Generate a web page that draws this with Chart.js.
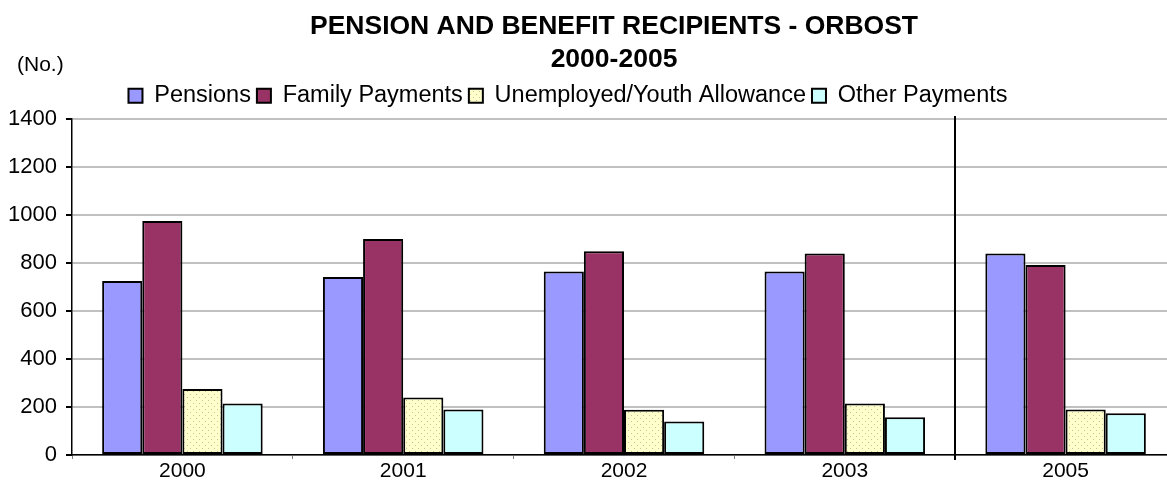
<!DOCTYPE html>
<html>
<head>
<meta charset="utf-8">
<script src="https://cdn.jsdelivr.net/npm/chart.js@4.4.1/dist/chart.umd.min.js"></script>
<style>
  html, body { margin: 0; padding: 0; background: #fff; overflow: hidden; }
  #wrap { width: 1200px; height: 495px; position: relative; }
</style>
</head>
<body>
<div id="wrap"><canvas id="c" width="1200" height="495"></canvas></div>
<script>
const categories = ['2000', '2001', '2002', '2003', '2005'];
const pensions = [725, 742, 765, 765, 840];
const familyPayments = [975, 900, 849, 840, 792];
const unemployedYouth = [275, 240, 189, 215, 190];
const otherPayments = [215, 190, 140, 157, 174];
const yTicks = [0, 200, 400, 600, 800, 1000, 1200, 1400];
const titleLines = ['PENSION AND BENEFIT RECIPIENTS - ORBOST', '2000-2005'];
const unitLabel = '(No.)';
const seriesNames = ['Pensions', 'Family Payments', 'Unemployed/Youth Allowance', 'Other Payments'];

const FONT = "'Liberation Sans', Arial, sans-serif";

function dotPattern() {
  const c = document.createElement('canvas');
  c.width = 6; c.height = 6;
  const g = c.getContext('2d');
  g.fillStyle = '#FFFFCC';
  g.fillRect(0, 0, 6, 6);
  g.fillStyle = '#c4c49a';
  g.fillRect(1, 1, 1, 1);
  g.fillRect(4, 4, 1, 1);
  return g.createPattern(c, 'repeat');
}
const pat = dotPattern();

const textPlugin = {
  id: 'headerText',
  afterDraw(chart) {
    const ctx = chart.ctx;
    ctx.save();
    ctx.fillStyle = '#000';
    ctx.textBaseline = 'middle';
    ctx.textAlign = 'center';
    ctx.font = "bold 26.5px " + FONT;
    ctx.fillText(titleLines[0], 614, 27);
    ctx.fillText(titleLines[1], 614, 60);
    ctx.font = "21px " + FONT;
    ctx.textAlign = 'left';
    ctx.fillText(unitLabel, 17, 65);
    ctx.restore();
  }
};

const dividerPlugin = {
  id: 'divider',
  afterDatasetsDraw(chart) {
    const xs = chart.scales.x;
    const a = chart.chartArea;
    const x = Math.round((xs.getPixelForTick(3) + xs.getPixelForTick(4)) / 2);
    const ctx = chart.ctx;
    ctx.save();
    ctx.strokeStyle = '#000';
    ctx.lineWidth = 2;
    ctx.beginPath();
    ctx.moveTo(x, a.top - 3);
    ctx.lineTo(x, a.bottom + 5);
    ctx.stroke();
    ctx.restore();
  }
};

const legendFit = {
  id: 'legendFit',
  beforeInit(chart) {
    const lg = chart.legend;
    if (lg) {
      const origFit = lg.fit;
      lg.fit = function () { origFit.call(this); this.height = 41; };
      const origDraw = lg.draw;
      lg.draw = function () {
        const ctx = this.ctx;
        ctx.save();
        ctx.translate(-20, 0);
        origDraw.call(this);
        ctx.restore();
      };
    }
  }
};

new Chart(document.getElementById('c'), {
  type: 'bar',
  data: {
    labels: categories,
    datasets: [
      { label: seriesNames[0], data: pensions, backgroundColor: '#9999FF', borderColor: '#000', borderWidth: 2 },
      { label: seriesNames[1], data: familyPayments, backgroundColor: '#993366', borderColor: '#000', borderWidth: 2 },
      { label: seriesNames[2], data: unemployedYouth, backgroundColor: pat, borderColor: '#000', borderWidth: 2 },
      { label: seriesNames[3], data: otherPayments, backgroundColor: '#CCFFFF', borderColor: '#000', borderWidth: 2 }
    ]
  },
  options: {
    responsive: false,
    animation: false,
    devicePixelRatio: 1,
    layout: { padding: { top: 78, left: 0, right: 24, bottom: 0 } },
    datasets: { bar: { categoryPercentage: 0.727, barPercentage: 1.0, borderSkipped: false } },
    plugins: {
      title: { display: false },
      legend: {
        display: true,
        position: 'top',
        labels: {
          color: '#000',
          font: { family: FONT, size: 23.5 },
          boxWidth: 14,
          boxHeight: 14,
          padding: 6
        }
      },
      tooltip: { enabled: false }
    },
    scales: {
      x: {
        offset: true,
        grid: { display: true, drawOnChartArea: false, drawTicks: true, tickLength: 4, tickColor: '#808080', offset: true },
        border: { display: true, color: '#000', width: 1.5 },
        ticks: { color: '#000', font: { family: FONT, size: 21 }, padding: 0, maxRotation: 0 },
        afterFit(s) { s.height = 40; }
      },
      y: {
        min: 0,
        max: 1400,
        afterBuildTicks(s) { s.ticks = yTicks.map(v => ({ value: v })); },
        grid: { color: '#c0c0c0', lineWidth: 2, drawTicks: true, tickLength: 6, tickColor: '#000' },
        border: { display: true, color: '#000', width: 1.5 },
        ticks: { color: '#000', font: { family: FONT, size: 22 }, padding: 9, callback: v => String(v) },
        afterFit(s) { s.width = 72; }
      }
    }
  },
  plugins: [legendFit, dividerPlugin, textPlugin]
});
</script>
</body>
</html>
